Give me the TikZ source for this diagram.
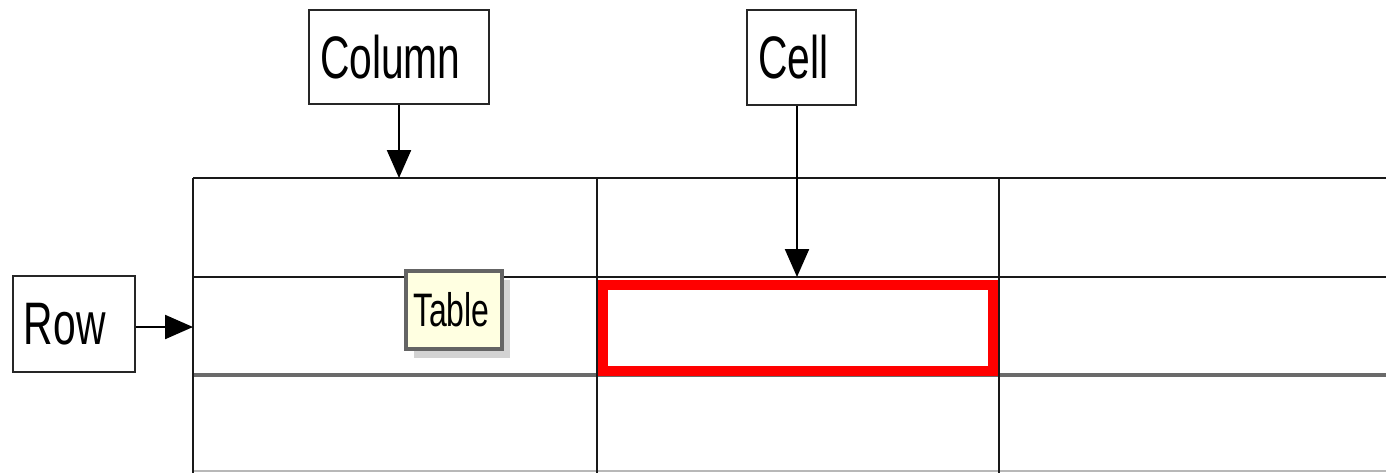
\documentclass[tikz,border=0pt]{standalone}
\usepackage{fontspec}
\newfontfamily\narrowfont[FakeStretch=0.68]{Liberation Sans}
\usetikzlibrary{arrows.meta,shadows}
\definecolor{tipyellow}{HTML}{FFFFE1}
\definecolor{tipborder}{HTML}{646464}
\definecolor{midgray}{HTML}{6A6A6A}
\definecolor{lightgray}{HTML}{B8B8B8}
\begin{document}
\begin{tikzpicture}[x=0.5pt,y=-0.5pt,
  labelbox/.style={draw=black!85,line width=1.3pt,fill=white,inner xsep=5.5pt,inner ysep=0pt,
     align=left,font=\narrowfont\fontsize{30pt}{34pt}\selectfont},
  grid/.style={line width=1.2pt,draw=black!90},
  pointer/.style={line width=1.1pt,-{Triangle[length=14pt,width=12pt]}}]
\useasboundingbox (0,0) rectangle (1386,473);
% table grid
\draw[grid] (193,178) -- (1386,178);
\draw[grid] (193,277) -- (1386,277);
\draw[line width=1.6pt,midgray] (193,375) -- (1386,375);
\draw[line width=1.2pt,lightgray] (193,471) -- (1386,471);
\draw[grid] (193,178) -- (193,473);
\draw[grid] (597,178) -- (597,473);
\draw[grid] (999,178) -- (999,473);
% highlighted cell
\draw[red,line width=5pt] (602.5,285) rectangle (992.5,370.5);
% labels
\node[labelbox,text width=79pt,minimum height=47pt] (col) at (399,57) {Column};
\node[labelbox,text width=43.5pt,minimum height=47.5pt] (cell) at (801.5,57.5) {Cell};
\node[labelbox,text width=50pt,minimum height=48pt] (row) at (74,324) {Row};
\node[draw=tipborder,line width=1.8pt,fill=tipyellow,inner xsep=3.5pt,inner ysep=0pt,
  text width=41pt,minimum height=39pt,align=left,
  drop shadow={shadow xshift=4pt,shadow yshift=-4.5pt,opacity=0.35},
  font=\narrowfont\fontsize{23.5pt}{27pt}\selectfont] (tbl) at (454,310) {Table};
% pointer targets
\coordinate (colTip) at (399,178);
\coordinate (cellTip) at (797,277);
\coordinate (rowTip) at (193,327);
\draw[pointer] (col.south -| colTip) -- (colTip);
\draw[pointer] (cell.south -| cellTip) -- (cellTip);
\draw[pointer] (row.east |- rowTip) -- (rowTip);
\end{tikzpicture}
\end{document}
